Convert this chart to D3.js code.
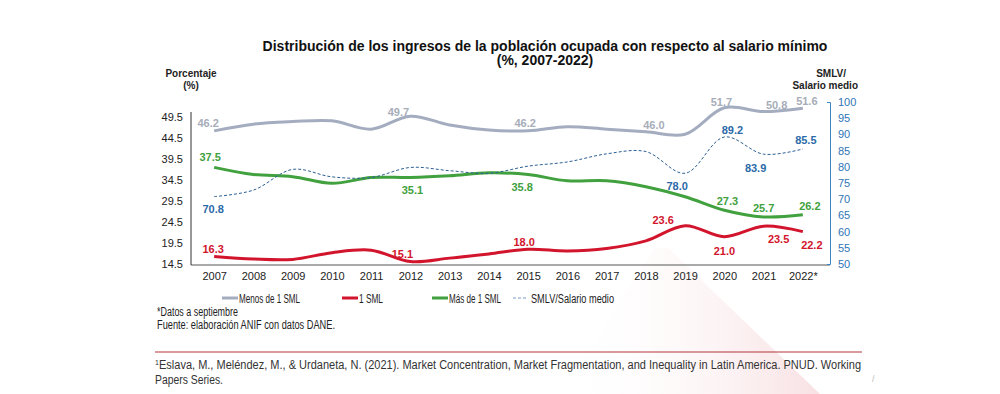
<!DOCTYPE html>
<html>
<head>
<meta charset="utf-8">
<script src="https://cdn.jsdelivr.net/npm/d3@7"></script>
<style>
  body { margin: 0; background: #fff; }
  svg { display: block; }
  text { font-family: "Liberation Sans", Arial, sans-serif; }
</style>
</head>
<body>
<svg id="chart" width="1000" height="394"></svg>
<script>
// data
const years = ["2007","2008","2009","2010","2011","2012","2013","2014","2015","2016","2017","2018","2019","2020","2021","2022*"];
const menos1 = [46.2, 47.8, 48.4, 48.6, 46.6, 49.7, 47.6, 46.4, 46.2, 47.2, 46.6, 46.0, 45.4, 51.7, 50.8, 51.6];
const sml1   = [16.3, 15.7, 15.6, 17.2, 17.8, 15.1, 15.9, 16.9, 18.0, 17.6, 18.2, 20.0, 23.6, 21.0, 23.5, 22.2];
const mas1   = [37.5, 35.8, 35.3, 33.7, 35.1, 35.1, 35.5, 36.2, 35.8, 34.3, 34.3, 32.9, 30.5, 27.3, 25.7, 26.2];
const smlv   = [70.8, 72.8, 79.2, 76.9, 76.7, 79.8, 78.8, 78.0, 80.2, 81.5, 84.0, 84.7, 78.0, 89.2, 83.9, 85.5];
const leftTicks = [14.5, 19.5, 24.5, 29.5, 34.5, 39.5, 44.5, 49.5];
const rightTicks = [50, 55, 60, 65, 70, 75, 80, 85, 90, 95, 100];
const legendNames = ["Menos de 1 SML", "1 SML", "Más de 1 SML", "SMLV/Salario medio"];

// which points carry a value label, and where the label sits (pixels from the point)
const menosLabels = [[0, -6, -8], [5, -12, -4], [8, -3, -8], [11, 8, -7], [13, -3, -6], [14, 13, -7], [15, 4, -7]];
const smlLabels   = [[0, -1, -7], [5, -8, -7], [8, -4, -7], [12, -22, -6], [13, 0, 14], [14, 15, 13], [15, 9, 13]];
const masLabels   = [[0, -4, -10], [5, 2, 13], [8, -6, 12], [13, 3, -9], [14, 0, -9], [15, 7, -9]];
const smlvLabels  = [[0, -1, 12], [12, -8, 13], [13, 8, -7], [14, -8, 14], [15, 3, -9]];

const svg = d3.select("#chart");

// faint watermark behind the chart
let wm = svg.append("defs").append("linearGradient").attr("id", "wm")
    .attr("x1", "0%").attr("y1", "0%").attr("x2", "100%").attr("y2", "0%");
wm.append("stop").attr("offset", "0%").attr("stop-color", "#fff").attr("stop-opacity", 0);
wm.append("stop").attr("offset", "100%").attr("stop-color", "#f6d9dc").attr("stop-opacity", 0.8);
svg.append("path")
    .attr("d", "M560,394 L655,248 L668,248 L820,394 Z")
    .attr("fill", "url(#wm)");

const x = d3.scalePoint().domain(years).range([191, 826]).padding(0.59);
const yL = d3.scaleLinear().domain([14.5, 49.5]).range([264, 117]);
const yR = d3.scaleLinear().domain([50, 100]).range([264, 102]);

// title
svg.append("text").attr("x", 545).attr("y", 51).attr("text-anchor", "middle")
    .style("font-size", "14px").style("font-weight", "bold").attr("fill", "#111")
    .text("Distribución de los ingresos de la población ocupada con respecto al salario mínimo");
svg.append("text").attr("x", 545).attr("y", 65).attr("text-anchor", "middle")
    .style("font-size", "14px").style("font-weight", "bold").attr("fill", "#111")
    .text("(%, 2007-2022)");

// axis titles
let lt = svg.append("text").attr("text-anchor", "middle").style("font-size", "10px")
    .style("font-weight", "bold").attr("fill", "#222");
lt.append("tspan").attr("x", 191).attr("y", 77).text("Porcentaje");
lt.append("tspan").attr("x", 191).attr("y", 89).text("(%)");
let rt = svg.append("text").attr("text-anchor", "end").style("font-size", "10px")
    .style("font-weight", "bold").attr("fill", "#222");
rt.append("tspan").attr("x", 846).attr("y", 77).text("SMLV/");
rt.append("tspan").attr("x", 858).attr("y", 89).text("Salario medio");

// axes
let gx = svg.append("g").attr("transform", "translate(0,265)")
    .call(d3.axisBottom(x).tickSize(0).tickSizeOuter(0));
gx.select(".domain").attr("stroke", "#555").attr("d", "M191,0H830");
gx.selectAll("text").attr("dy", "1.1em").style("font-size", "11px").attr("fill", "#222");

let gl = svg.append("g").attr("transform", "translate(191,0)")
    .call(d3.axisLeft(yL).tickValues(leftTicks).tickFormat(d3.format(".1f")).tickSize(0).tickSizeOuter(0));
gl.select(".domain").attr("stroke", "#333").attr("d", "M0,112V265");
gl.selectAll("text").attr("x", -8).style("font-size", "11px").attr("fill", "#222");

let gr = svg.append("g").attr("transform", "translate(830,0)")
    .call(d3.axisRight(yR).tickValues(rightTicks).tickSize(0).tickSizeOuter(-3));
gr.select(".domain").attr("stroke", "#3a84c4");
gr.selectAll("text").attr("x", 8).style("font-size", "11px").attr("fill", "#2e75b6");

// lines
const series = [
  {vals: menos1, y: yL, color: "#a4acbf", text: "#a7adb9", width: 3, dash: null, labels: menosLabels},
  {vals: sml1, y: yL, color: "#d2152c", text: "#d2152c", width: 3, dash: null, labels: smlLabels},
  {vals: mas1, y: yL, color: "#41a13e", text: "#41a13e", width: 3, dash: null, labels: masLabels},
  {vals: smlv, y: yR, color: "#2c5f94", text: "#2a6aa8", width: 1, dash: "3,2", labels: smlvLabels}
];

series.forEach(function (s) {
  let line = d3.line()
      .x((d, i) => x(years[i]))
      .y(d => s.y(d))
      .curve(d3.curveCatmullRom.alpha(0.5));
  svg.append("path").datum(s.vals)
      .attr("d", line)
      .attr("fill", "none")
      .attr("stroke", s.color)
      .attr("stroke-width", s.width)
      .attr("stroke-dasharray", s.dash);
  svg.selectAll(null).data(s.labels).enter().append("text")
      .attr("x", d => x(years[d[0]]) + d[1])
      .attr("y", d => s.y(s.vals[d[0]]) + d[2])
      .attr("text-anchor", "middle")
      .attr("dominant-baseline", "central")
      .style("font-size", "11px")
      .style("font-weight", "bold")
      .attr("fill", s.text)
      .text(d => d3.format(".1f")(s.vals[d[0]]));
});

// legend (condensed text squeezed to the widths in the picture)
const legendX = [222, 342, 432, 513];
const legendW = [61, 24, 52, 83];
series.forEach(function (s, i) {
  let g = svg.append("g").attr("transform", "translate(" + legendX[i] + ",298)");
  g.append("line").attr("x1", 0).attr("x2", i === 3 ? 14 : 16).attr("y1", 0).attr("y2", 0)
      .attr("stroke", i === 3 ? "#7d9cc4" : s.color)
      .attr("stroke-width", i === 3 ? 1 : 3)
      .attr("stroke-dasharray", s.dash);
  g.append("text").attr("x", i === 3 ? 18 : 17).attr("y", 4.5)
      .attr("textLength", legendW[i]).attr("lengthAdjust", "spacingAndGlyphs")
      .style("font-size", "12.5px").attr("fill", "#222").text(legendNames[i]);
});

// notes
svg.append("text").attr("x", 157).attr("y", 316)
    .attr("textLength", 81).attr("lengthAdjust", "spacingAndGlyphs")
    .style("font-size", "12px").attr("fill", "#222").text("*Datos a septiembre");
svg.append("text").attr("x", 157).attr("y", 329)
    .attr("textLength", 178).attr("lengthAdjust", "spacingAndGlyphs")
    .style("font-size", "12px").attr("fill", "#222").text("Fuente: elaboración ANIF con datos DANE.");

// footnote
svg.append("line").attr("x1", 155).attr("x2", 862).attr("y1", 352).attr("y2", 352)
    .attr("stroke", "#b2363d").attr("stroke-width", 1.2);
svg.append("text").attr("x", 155).attr("y", 365).style("font-size", "7px").attr("fill", "#333").text("1");
svg.append("text").attr("x", 159).attr("y", 369)
    .attr("textLength", 702).attr("lengthAdjust", "spacingAndGlyphs")
    .style("font-size", "12.5px").attr("fill", "#333")
    .text("Eslava, M., Meléndez, M., & Urdaneta, N. (2021). Market Concentration, Market Fragmentation, and Inequality in Latin America. PNUD. Working");
svg.append("text").attr("x", 155).attr("y", 384)
    .attr("textLength", 68).attr("lengthAdjust", "spacingAndGlyphs")
    .style("font-size", "12.5px").attr("fill", "#333").text("Papers Series.");
svg.append("text").attr("x", 872).attr("y", 382).style("font-size", "9px").attr("fill", "#bbb").text("/");
</script>
</body>
</html>
